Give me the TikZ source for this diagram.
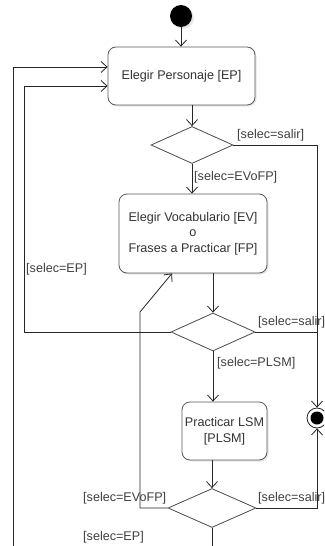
\documentclass[tikz,border=0pt]{standalone}
\usepackage{fontspec}
\setmainfont{Liberation Sans}
\usetikzlibrary{arrows.meta,shapes.geometric,shadows}
\begin{document}
\begin{tikzpicture}[x=1pt,y=-1pt,
  every node/.style={font=\fontsize{12.6}{15.5}\selectfont, text=black!80},
  act/.style={draw=black!65, line width=0.8pt, rounded corners=8pt, fill=white, inner sep=0pt, align=center,
    drop shadow={shadow xshift=1.5pt,shadow yshift=-1.5pt,opacity=0.2}},
  dec/.style={diamond, draw=black!70, line width=0.8pt, fill=white, inner sep=0pt},
  flow/.style={draw=black!85, line width=0.8pt, -{Straight Barb[length=6pt,width=11pt]}},
  plain/.style={draw=black!85, line width=0.8pt},
  guard/.style={anchor=west, inner sep=0pt, text=black!75}]
\useasboundingbox (0,0) rectangle (324,546);
\clip (0,0) rectangle (324,546);
\fill[white] (0,0) rectangle (324,546);

% nodes
\node[circle, fill=black, minimum size=22pt, inner sep=0pt,
  drop shadow={shadow xshift=2pt,shadow yshift=-2pt,opacity=0.2}] (start) at (181,16) {};
\node[act, minimum width=147pt, minimum height=58pt] (ep) at (181.5,76) {Elegir Personaje [EP]};
\node[dec, minimum width=82pt, minimum height=37pt] (d1) at (192,145) {};
\node[act, minimum width=148pt, minimum height=79pt] (ev) at (193,233.5) {Elegir Vocabulario [EV]\\o\\Frases a Practicar [FP]};
\node[dec, minimum width=84pt, minimum height=38pt] (d2) at (213,332) {};
\node[act, minimum width=85pt, minimum height=58pt] (pl) at (224.5,431) {Practicar LSM\\{[PLSM]}};
\node[dec, minimum width=88pt, minimum height=39pt] (d3) at (212,508) {};
\node[circle, draw=black!85, line width=0.8pt, minimum size=20pt, inner sep=0pt, fill=white] (fin) at (317,418) {};
\node[circle, fill=black, minimum size=13pt, inner sep=0pt] (finin) at (fin) {};

\coordinate (bot3) at (212,550);
\coordinate (outer) at (13,550);

% connectors
\draw[flow] (start) -- (start |- ep.north);
\draw[flow] (ep.south -| d1) -- (d1.north);
\draw[flow] (d1.east) -- (d1.east -| fin) -- (fin.north);
\draw[flow] (d1.south) -- (d1.south |- ev.north);
\draw[flow] (ev.south -| d2) -- (d2.north);
\draw[plain] (d2.east) -- (d2.east -| fin);
\draw[flow] (d2.west) -- (24,332) -- (24,86) -- ([yshift=-10pt]ep.west);
\draw[flow] (d2.south) -- (d2.south |- pl.north);
\draw[flow] (pl.south -| d3) -- (d3.north);
\draw[flow] (d3.east) -- (d3.east -| fin) -- (fin.south);
\draw[flow] (d3.west) -- (140,508) -- (140,312) -- ([xshift=-21pt]ev.south);
\draw[plain] (d3.south) -- (bot3);
\draw[flow] (outer) -- (13,67) -- ([yshift=9pt]ep.west);

% guards
\node[guard] (g1) at (237,135) {[selec=salir]};
\node[guard] (g2) at (194,177) {[selec=EVoFP]};
\node[guard] (g3) at (26,269) {[selec=EP]};
\node[guard] (g4) at (258,322) {[selec=salir]};
\node[guard] (g5) at (217,363) {[selec=PLSM]};
\node[guard] (g6) at (258,498) {[selec=salir]};
\node[guard] (g7) at (83,498) {[selec=EVoFP]};
\node[guard] (g8) at (83,537) {[selec=EP]};
\end{tikzpicture}
\end{document}
